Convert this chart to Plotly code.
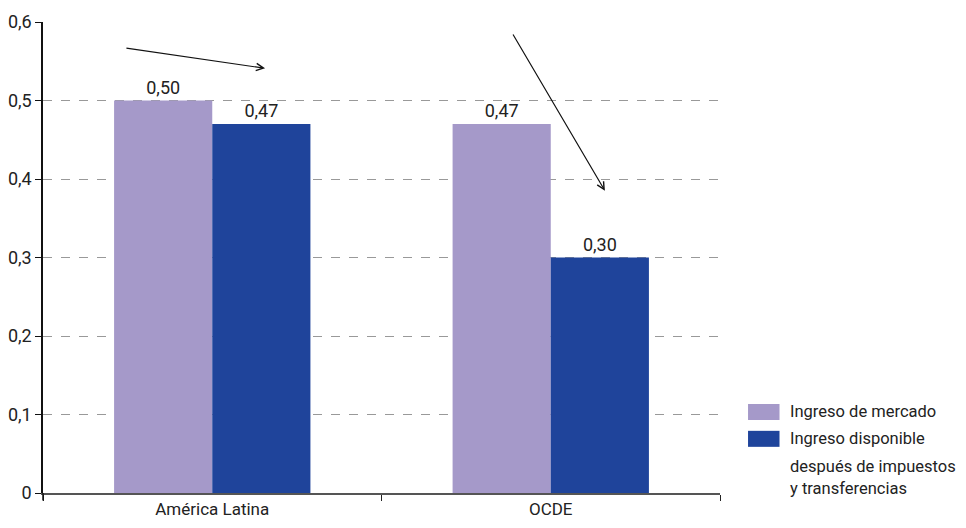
import plotly.graph_objects as go

categories = ["América Latina", "OCDE"]
mercado = [0.50, 0.47]
disponible = [0.47, 0.30]
series_names = ["Ingreso de mercado", "Ingreso disponible<br>después de impuestos<br>y transferencias"]
legend_lines_2 = ["Ingreso disponible", "después de impuestos", "y transferencias"]
labels_mercado = ["0,50", "0,47"]
labels_disponible = ["0,47", "0,30"]
y_ticks = [0, 0.1, 0.2, 0.3, 0.4, 0.5, 0.6]
y_ticklabels = ["0", "0,1", "0,2", "0,3", "0,4", "0,5", "0,6"]

FONT = "Roboto, Liberation Sans Narrow, sans-serif"
PURPLE = "#A599C9"
BLUE = "#1F449B"
TXT = "#222"

fig = go.Figure()
fig.add_trace(go.Bar(x=categories, y=mercado, name=series_names[0], marker_color=PURPLE,
                     marker_line_width=0, text=labels_mercado, textposition="outside",
                     textfont=dict(size=18, color=TXT), cliponaxis=False, showlegend=False))
fig.add_trace(go.Bar(x=categories, y=disponible, name=series_names[1], marker_color=BLUE,
                     marker_line_width=0, text=labels_disponible, textposition="outside",
                     textfont=dict(size=18, color=TXT), cliponaxis=False, showlegend=False))

fig.update_layout(
    width=966, height=528,
    margin=dict(l=35, r=254, t=14, b=43),
    paper_bgcolor="white", plot_bgcolor="white",
    font=dict(family=FONT, size=17, color=TXT),
    barmode="group", bargap=0.42, bargroupgap=0,
    showlegend=False,
)
fig.update_xaxes(
    automargin=False,
    showline=True, linecolor="#555", linewidth=2,
    ticks="outside", tickson="boundaries", ticklen=6, tickcolor="#222",
    tickfont=dict(size=17, color=TXT), showgrid=False,
)
fig.update_yaxes(
    automargin=False,
    range=[0, 0.6], tickvals=y_ticks, ticktext=y_ticklabels,
    showline=True, linecolor="#111", linewidth=1.5,
    ticks="outside", ticklen=6, tickcolor="#111",
    tickfont=dict(size=18, color=TXT),
    showgrid=True, gridcolor="#999", griddash="dash", gridwidth=1,
    zeroline=False,
)

# Y axis line extension below zero
fig.add_shape(type="line", xref="paper", yref="paper", x0=0, x1=0, y0=0, y1=-0.016,
              line=dict(color="#111", width=1.5))

# Arrows (annotations)
fig.add_annotation(x=0.156, y=0.541, ax=-0.258, ay=0.567, xref="x", yref="y", axref="x", ayref="y",
                   text="", showarrow=True, arrowhead=5, arrowsize=1.2, arrowwidth=1.2, arrowcolor="#111")
fig.add_annotation(x=1.16, y=0.385, ax=0.886, ay=0.586, xref="x", yref="y", axref="x", ayref="y",
                   text="", showarrow=True, arrowhead=5, arrowsize=1.2, arrowwidth=1.2, arrowcolor="#111")

# Custom legend
fig.add_shape(type="rect", xref="paper", yref="paper", x0=1.0414, x1=1.0879, y0=0.155, y1=0.189,
              fillcolor=PURPLE, line_width=0)
fig.add_shape(type="rect", xref="paper", yref="paper", x0=1.0414, x1=1.0879, y0=0.098, y1=0.132,
              fillcolor=BLUE, line_width=0)
fig.add_annotation(x=1.100, y=0.172, xref="paper", yref="paper", xanchor="left", yanchor="middle",
                   text=series_names[0], showarrow=False, font=dict(size=16.5, color=TXT))
for line, yy in zip(legend_lines_2, [0.1147, 0.0573, 0.0085]):
    fig.add_annotation(x=1.100, y=yy, xref="paper", yref="paper", xanchor="left", yanchor="middle",
                       text=line, showarrow=False, font=dict(size=16.5, color=TXT))

fig.write_html("out.html")
